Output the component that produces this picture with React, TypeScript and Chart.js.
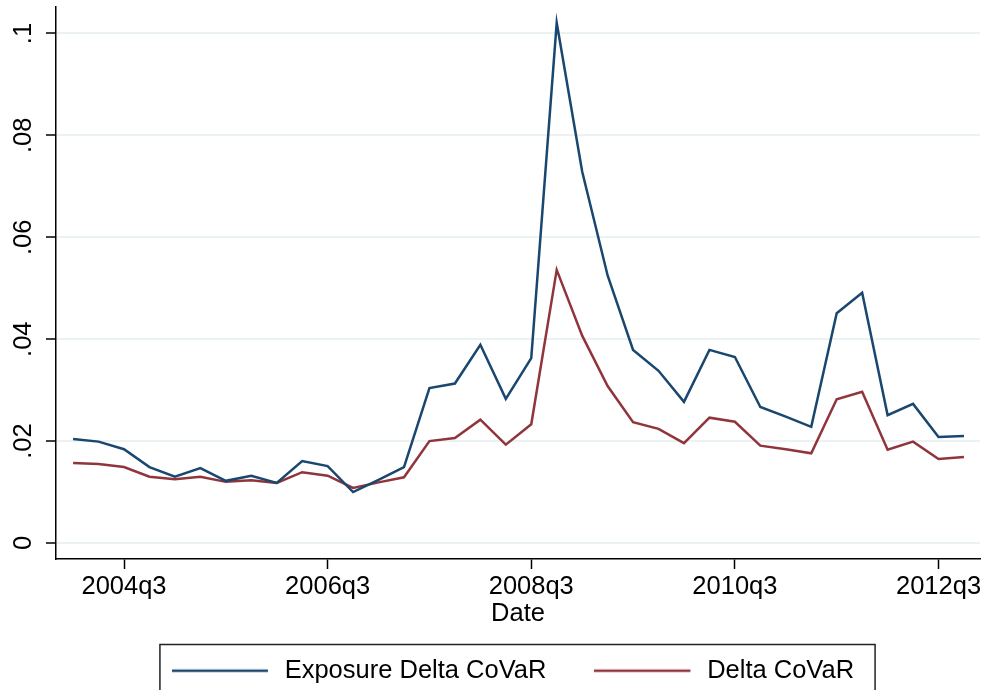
import React, { useEffect, useRef } from "react";
import { Chart, registerables } from "chart.js";

Chart.register(...registerables);

const quarters = [
  "2004q1", "2004q2", "2004q3", "2004q4",
  "2005q1", "2005q2", "2005q3", "2005q4",
  "2006q1", "2006q2", "2006q3", "2006q4",
  "2007q1", "2007q2", "2007q3", "2007q4",
  "2008q1", "2008q2", "2008q3", "2008q4",
  "2009q1", "2009q2", "2009q3", "2009q4",
  "2010q1", "2010q2", "2010q3", "2010q4",
  "2011q1", "2011q2", "2011q3", "2011q4",
  "2012q1", "2012q2", "2012q3", "2012q4",
];

const exposureDeltaCoVaR = [
  0.0204, 0.0199, 0.0184, 0.0149,
  0.0130, 0.0147, 0.0122, 0.0132,
  0.0118, 0.0161, 0.0151, 0.0100,
  0.0124, 0.0149, 0.0304, 0.0313,
  0.0389, 0.0283, 0.0363, 0.1021,
  0.0729, 0.0525, 0.0379, 0.0338,
  0.0277, 0.0379, 0.0365, 0.0267,
  0.0248, 0.0228, 0.0451, 0.0491,
  0.0251, 0.0273, 0.0208, 0.0210,
];

const deltaCoVaR = [
  0.0157, 0.0155, 0.0149, 0.0130,
  0.0125, 0.0130, 0.0120, 0.0123,
  0.0118, 0.0139, 0.0132, 0.0108,
  0.0119, 0.0129, 0.0200, 0.0206,
  0.0242, 0.0193, 0.0233, 0.0536,
  0.0407, 0.0308, 0.0237, 0.0224,
  0.0196, 0.0246, 0.0238, 0.0191,
  0.0184, 0.0176, 0.0282, 0.0297,
  0.0183, 0.0199, 0.0165, 0.0169,
];

const seriesNames = ["Exposure Delta CoVaR", "Delta CoVaR"];
const seriesColors = ["#1a476f", "#90353b"];
const xTickLabels = ["2004q3", "2006q3", "2008q3", "2010q3", "2012q3"];
const yTickValues = [0, 0.02, 0.04, 0.06, 0.08, 0.1];
const yTickLabels = ["0", ".02", ".04", ".06", ".08", ".1"];
const xTitle = "Date";

const FONT = "'Liberation Sans', Arial, Helvetica, sans-serif";
const FS = 25.5;
const LEGEND_SAMPLE_W = 100;
const LEGEND_LINE_W = 96;

function makeLegendSample(color: string): HTMLCanvasElement {
  const c = document.createElement("canvas");
  c.width = LEGEND_SAMPLE_W;
  c.height = 6;
  const ctx = c.getContext("2d");
  if (ctx) {
    ctx.strokeStyle = color;
    ctx.lineWidth = 2.5;
    ctx.beginPath();
    ctx.moveTo(0, 3);
    ctx.lineTo(LEGEND_LINE_W, 3);
    ctx.stroke();
  }
  return c;
}

const legendBoxPlugin = {
  id: "legendBox",
  afterLayout(chart: any) {
    const lg = chart.legend;
    if (!lg) return;
    const right = lg.right;
    lg.left = chart.chartArea.left - 10;
    lg.width = right - lg.left;
  },
  afterDraw(chart: any) {
    const lg = chart.legend;
    if (!lg || !lg.legendHitBoxes || !lg.legendHitBoxes.length) return;
    const hb = lg.legendHitBoxes;
    const left = Math.min(...hb.map((h: any) => h.left)) - 12;
    const right = Math.max(...hb.map((h: any) => h.left + h.width)) + 21;
    const top = hb[0].top - 13.5;
    const ctx = chart.ctx;
    ctx.save();
    ctx.strokeStyle = "#222";
    ctx.lineWidth = 1.5;
    ctx.strokeRect(left, top, right - left, chart.height + 20 - top);
    ctx.restore();
  },
};

export default function App() {
  const ref = useRef<HTMLCanvasElement | null>(null);

  useEffect(() => {
    if (!ref.current) return;
    const chart = new Chart(ref.current, {
      type: "line",
      data: {
        datasets: [
          {
            label: seriesNames[0],
            data: exposureDeltaCoVaR.map((v, i) => ({ x: i, y: v })),
            borderColor: seriesColors[0],
            backgroundColor: seriesColors[0],
            borderWidth: 2.5,
            pointRadius: 0,
            pointStyle: makeLegendSample(seriesColors[0]),
            tension: 0,
          },
          {
            label: seriesNames[1],
            data: deltaCoVaR.map((v, i) => ({ x: i, y: v })),
            borderColor: seriesColors[1],
            backgroundColor: seriesColors[1],
            borderWidth: 2.5,
            pointRadius: 0,
            pointStyle: makeLegendSample(seriesColors[1]),
            tension: 0,
          },
        ],
      },
      options: {
        responsive: false,
        animation: false,
        devicePixelRatio: 1,
        layout: { padding: { left: 0, right: 4, top: 7, bottom: -3.5 } },
        plugins: {
          tooltip: { enabled: false },
          legend: {
            position: "bottom",
            align: "center",
            labels: {
              usePointStyle: true,
              pointStyleWidth: LEGEND_SAMPLE_W,
              boxHeight: FS,
              padding: 48,
              color: "#000",
              font: { family: FONT, size: FS },
            },
          },
        },
        scales: {
          x: {
            type: "linear",
            min: -0.672,
            max: 35.63,
            afterBuildTicks: (scale: any) => {
              scale.ticks = xTickLabels.map((l) => ({ value: quarters.indexOf(l) }));
            },
            afterFit: (scale: any) => {
              scale.height = 51;
              scale.paddingLeft = 0;
              scale.paddingRight = 0;
            },
            ticks: {
              autoSkip: false,
              maxRotation: 0,
              minRotation: 0,
              padding: 3,
              color: "#000",
              font: { family: FONT, size: FS },
              callback: (v: any) => quarters[Math.round(Number(v))] ?? "",
            },
            grid: {
              display: true,
              drawOnChartArea: false,
              drawTicks: true,
              tickLength: 10,
              tickColor: "#000",
              tickWidth: 1.5,
            },
            border: { display: true, color: "#000", width: 1.5 },
            title: {
              display: true,
              text: xTitle,
              color: "#000",
              font: { family: FONT, size: FS, lineHeight: 1 },
              padding: { top: 0, bottom: -17 },
            },
          },
          y: {
            type: "linear",
            min: -0.00314,
            max: 0.1052,
            afterBuildTicks: (scale: any) => {
              scale.ticks = yTickValues.map((v) => ({ value: v }));
            },
            afterFit: (scale: any) => {
              scale.width = 56;
              scale.paddingTop = 0;
              scale.paddingBottom = 0;
            },
            ticks: {
              minRotation: 90,
              maxRotation: 90,
              crossAlign: "center",
              padding: 4.3,
              color: "#000",
              font: { family: FONT, size: FS },
              callback: (v: any) => {
                const idx = yTickValues.findIndex((t) => Math.abs(t - Number(v)) < 1e-9);
                return idx >= 0 ? yTickLabels[idx] : "";
              },
            },
            grid: {
              color: "#eaf2f3",
              lineWidth: 2,
              drawTicks: true,
              tickLength: 10,
              tickColor: "#000",
              tickWidth: 1.5,
            },
            border: { display: true, color: "#000", width: 1.5 },
          },
        },
      },
      plugins: [legendBoxPlugin],
    } as any);
    return () => chart.destroy();
  }, []);

  return (
    <div style={{ position: "absolute", left: 0, top: 0, width: 984, height: 690, background: "#fff" }}>
      <canvas ref={ref} width={984} height={690} style={{ display: "block", width: 984, height: 690 }} />
    </div>
  );
}
